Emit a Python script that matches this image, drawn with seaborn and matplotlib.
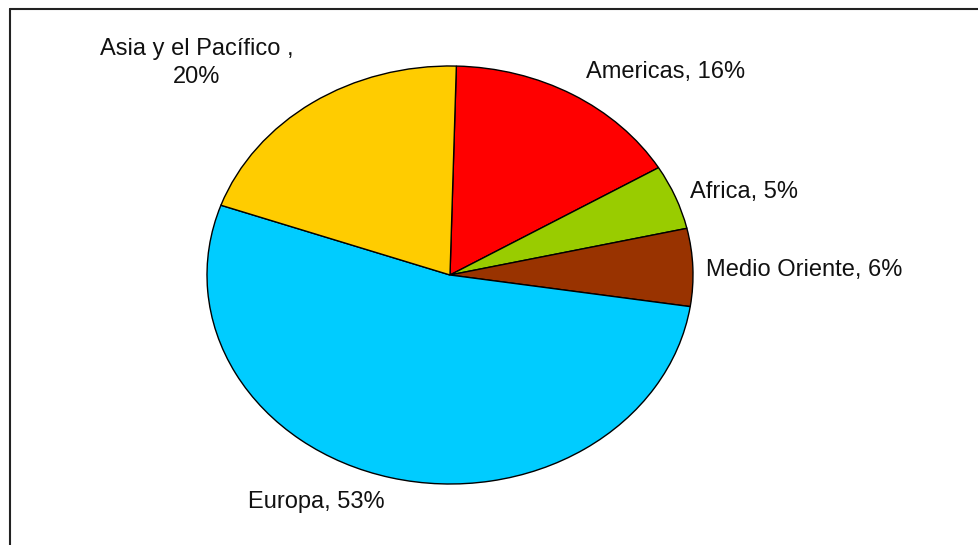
import matplotlib
matplotlib.use("Agg")
import matplotlib.pyplot as plt
import seaborn as sns

sns.set_theme(style="white")
plt.rcParams['font.family'] = ['Liberation Sans', 'DejaVu Sans']

regions = ["Americas", "Africa", "Medio Oriente", "Europa", "Asia y el Pacífico ,"]
shares = [16, 5, 6, 53, 20]
colors = ["#FF0000", "#99CC00", "#993300", "#00CCFF", "#FFCC00"]
label_texts = ["Americas, 16%", "Africa, 5%", "Medio Oriente, 6%", "Europa, 53%", "Asia y el Pacífico ,\n20%"]

W, H = 979, 545
fig = plt.figure(figsize=(W / 100, H / 100), dpi=100)
fig.patch.set_facecolor("white")

cx, cy, rx, ry = 450, 275, 243, 209
ax = fig.add_axes([(cx - rx) / W, (H - cy - ry) / H, 2 * rx / W, 2 * ry / H])
ax.pie(shares, colors=colors, startangle=88.5, counterclock=False,
       wedgeprops=dict(edgecolor="black", linewidth=1.0))
ax.set_aspect("auto")
ax.set_xlim(-1, 1)
ax.set_ylim(-1, 1)
ax.axis("off")

# label positions in pixels (x, y, ha)
pos = [(586, 72, "left"), (690, 192, "left"), (706, 270, "left"),
       (248, 502, "left"), (197, 63, "center")]
for txt, (px, py, ha) in zip(label_texts, pos):
    fig.text(px / W, 1 - py / H, txt, ha=ha, va="center", fontsize=17,
             color="#111111", multialignment="center", linespacing=1.35)

# frame lines
fig.add_artist(plt.Line2D([9.5 / W, 1], [1 - 8.5 / H, 1 - 8.5 / H], color="#222222", lw=1.5))
fig.add_artist(plt.Line2D([9.5 / W, 9.5 / W], [0, 1 - 8.5 / H], color="#222222", lw=1.5))

fig.savefig("out.png", dpi=100)
